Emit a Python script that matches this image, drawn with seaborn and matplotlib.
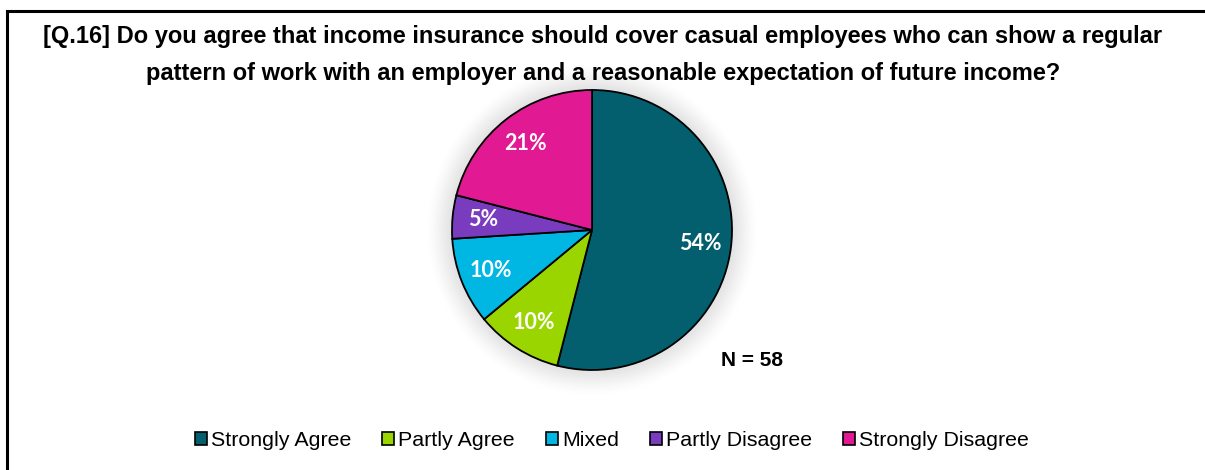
import numpy as np
import matplotlib
matplotlib.use("Agg")
import matplotlib.pyplot as plt
from matplotlib.patches import Patch, Rectangle
import seaborn as sns

# Survey responses
categories = ["Strongly Agree", "Partly Agree", "Mixed", "Partly Disagree", "Strongly Disagree"]
percentages = [54, 10, 10, 5, 21]
colors = ["#035F6E", "#9BD500", "#00B6E2", "#7A3CBF", "#E11A93"]
title_text = ("[Q.16] Do you agree that income insurance should cover casual employees who can show a regular\n"
              "pattern of work with an employer and a reasonable expectation of future income?")
sample_note = "N = 58"

sns.set_theme(style="white")
plt.rcParams["font.family"] = ["Liberation Sans", "DejaVu Sans"]
plt.rcParams["text.color"] = "black"
palette = sns.color_palette(colors)

W, H = 1205, 470
fig = plt.figure(figsize=(W / 100, H / 100), dpi=100)
fig.patch.set_facecolor("white")

# Chart-area frame (top and left edges visible)
fig.patches.append(Rectangle((6.5 / W, -0.2), 1.5, (H - 10.5) / H + 0.2,
                             transform=fig.transFigure, fill=False,
                             edgecolor="black", linewidth=2.2, zorder=0))

# Pie axes: center at (592, 230) px, radius 140 px
cx, cy, R = 592, 230, 140
half = 200
ax = fig.add_axes([(cx - half) / W, (H - cy - half) / H, 2 * half / W, 2 * half / H])
lim = half / R

# Soft glow behind the pie
n = 400
g = np.linspace(-lim, lim, n)
X, Y = np.meshgrid(g, g)
D = np.hypot(X, Y)
t = np.clip((D - 0.95) / 0.25, 0, 1)
alpha = (1 - t * t * (3 - 2 * t)) * 0.28
glow = np.zeros((n, n, 4))
glow[..., :3] = 0.55
glow[..., 3] = alpha
ax.imshow(glow, extent=(-lim, lim, -lim, lim), origin="lower", zorder=0, interpolation="bilinear")

wedges, texts, autotexts = ax.pie(
    percentages, colors=palette, startangle=90, counterclock=False, radius=1,
    autopct=lambda p: f"{p:.0f}%", pctdistance=0.78,
    wedgeprops=dict(edgecolor="black", linewidth=1.3),
    textprops=dict(color="white", fontsize=15.5, fontweight="bold", family=["Lato", "DejaVu Sans"]),
)
for w in wedges:
    w.set_zorder(2)
for a in autotexts:
    a.set_zorder(3)
ax.set_xlim(-lim, lim)
ax.set_ylim(-lim, lim)
ax.set_aspect("equal")
ax.axis("off")

# Title
fig.text(603 / W, 1 - 55 / H, title_text, ha="center", va="center",
         fontsize=17, fontweight="bold", linespacing=1.8)

# Sample size note
fig.text(752 / W, 1 - 360 / H, sample_note, ha="center", va="center",
         fontsize=15, fontweight="bold")

# Legend
handles = [Patch(facecolor=c, edgecolor="black", linewidth=1.2) for c in palette]
fig.legend(handles, categories, loc="center", bbox_to_anchor=(612 / W, 1 - 441 / H),
           ncol=5, frameon=False, fontsize=15.4, handlelength=0.55, handleheight=0.55,
           handletextpad=0.2, columnspacing=1.45)

fig.savefig("out.png", dpi=100, facecolor="white")
